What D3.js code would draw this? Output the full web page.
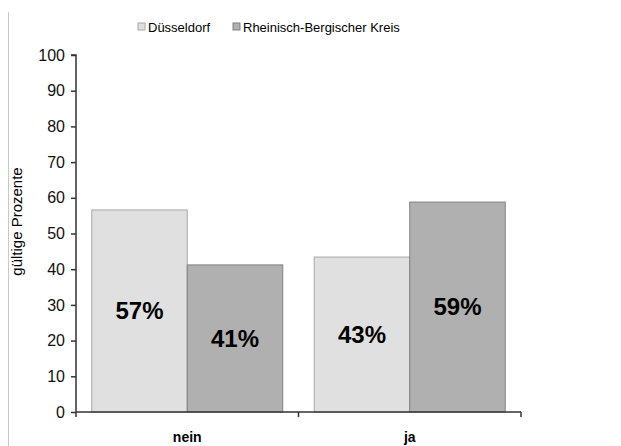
<!DOCTYPE html>
<html>
<head>
<meta charset="utf-8">
<script src="https://cdn.jsdelivr.net/npm/d3@7"></script>
<style>
  body { margin: 0; background: #fff; }
  text { font-family: "Liberation Sans", Arial, sans-serif; }
</style>
</head>
<body>
<script>
// chart data
const categories = ['nein', 'ja'];
const seriesNames = ['Düsseldorf', 'Rheinisch-Bergischer Kreis'];
const duesseldorf = [56.6, 43.4];
const rheinBerg = [41.2, 58.8];
const valueLabels = [['57%', '41%'], ['43%', '59%']];
const yTicks = [0, 10, 20, 30, 40, 50, 60, 70, 80, 90, 100];

const width = 621, height = 446;
const margin = { top: 55, right: 100, bottom: 34, left: 76 };
const colors = ['#e0e0e0', '#b0b0b0'];
const strokes = ['#a8a8a8', '#808080'];

const svg = d3.select('body').append('svg')
  .attr('width', width)
  .attr('height', height);

// left frame line
svg.append('line')
  .attr('x1', 8.5).attr('x2', 8.5)
  .attr('y1', 12).attr('y2', height)
  .attr('stroke', '#c8c8c8');

const x0 = d3.scaleBand()
  .domain(categories)
  .range([margin.left, width - margin.right])
  .paddingInner(0.1416)
  .paddingOuter(0.0708);

const x1 = d3.scaleBand()
  .domain(seriesNames)
  .range([0, x0.bandwidth()]);

const y = d3.scaleLinear()
  .domain([0, 100])
  .range([height - margin.bottom, margin.top]);

const rows = categories.map((c, i) => ({
  cat: c,
  vals: [duesseldorf[i], rheinBerg[i]],
  labels: [valueLabels[i][0], valueLabels[i][1]]
}));

// bars
const groups = svg.selectAll('.grp')
  .data(rows)
  .enter().append('g')
  .attr('class', 'grp')
  .attr('transform', d => `translate(${x0(d.cat)},0)`);

groups.selectAll('rect')
  .data(d => d.vals.map((v, j) => ({ v, j, label: d.labels[j] })))
  .enter().append('rect')
  .attr('x', d => x1(seriesNames[d.j]))
  .attr('y', d => y(d.v))
  .attr('width', x1.bandwidth())
  .attr('height', d => y(0) - y(d.v))
  .attr('fill', d => colors[d.j])
  .attr('stroke', d => strokes[d.j])
  .attr('stroke-width', 1);

groups.selectAll('.lbl')
  .data(d => d.vals.map((v, j) => ({ v, j, label: d.labels[j] })))
  .enter().append('text')
  .attr('class', 'lbl')
  .attr('x', d => x1(seriesNames[d.j]) + x1.bandwidth() / 2)
  .attr('y', d => (y(d.v) + y(0)) / 2)
  .attr('dy', '0.35em')
  .attr('text-anchor', 'middle')
  .attr('font-size', 24)
  .attr('font-weight', 'bold')
  .attr('fill', '#000')
  .text(d => d.label);

// y axis
const yAxis = d3.axisLeft(y)
  .tickValues(yTicks)
  .tickSize(5)
  .tickPadding(6);

const gy = svg.append('g')
  .attr('transform', `translate(${margin.left},0)`)
  .call(yAxis);
gy.selectAll('path, line').attr('stroke', '#333').attr('stroke-width', 1.5);
gy.select('.domain').attr('d', `M-5,${y(100)}H0V${y(0)}`);
gy.selectAll('text').attr('font-size', 16).attr('fill', '#111')
  .attr('font-family', '"Liberation Sans", Arial, sans-serif');

// x axis
const gx = svg.append('g')
  .attr('transform', `translate(0,${y(0)})`);
const xr = x0.range();
gx.append('line')
  .attr('x1', xr[0]).attr('x2', xr[1])
  .attr('stroke', '#333').attr('stroke-width', 1.5);
gx.selectAll('.xt')
  .data([xr[0], (xr[0] + xr[1]) / 2, xr[1]])
  .enter().append('line')
  .attr('x1', d => d).attr('x2', d => d)
  .attr('y1', 0).attr('y2', 5)
  .attr('stroke', '#333').attr('stroke-width', 1.5);
gx.selectAll('.xl')
  .data(categories)
  .enter().append('text')
  .attr('x', d => x0(d) + x0.bandwidth() / 2)
  .attr('y', 30)
  .attr('text-anchor', 'middle')
  .attr('font-size', 14)
  .attr('font-weight', 'bold')
  .text(d => d);

// y axis title
svg.append('text')
  .attr('transform', `translate(22,${(y(20) + y(80)) / 2 - 12}) rotate(-90)`)
  .attr('text-anchor', 'middle')
  .attr('font-size', 15)
  .text('gültige Prozente');

// legend
const legendX = [138, 233];
const legend = svg.selectAll('.leg')
  .data(seriesNames)
  .enter().append('g')
  .attr('class', 'leg')
  .attr('transform', (d, i) => `translate(${legendX[i]},23)`);
legend.append('rect')
  .attr('width', 7).attr('height', 7)
  .attr('y', 0)
  .attr('fill', (d, i) => colors[i])
  .attr('stroke', (d, i) => strokes[i]);
legend.append('text')
  .attr('x', 10).attr('y', 4)
  .attr('dy', '0.35em')
  .attr('font-size', 13)
  .text(d => d);
</script>
</body>
</html>
